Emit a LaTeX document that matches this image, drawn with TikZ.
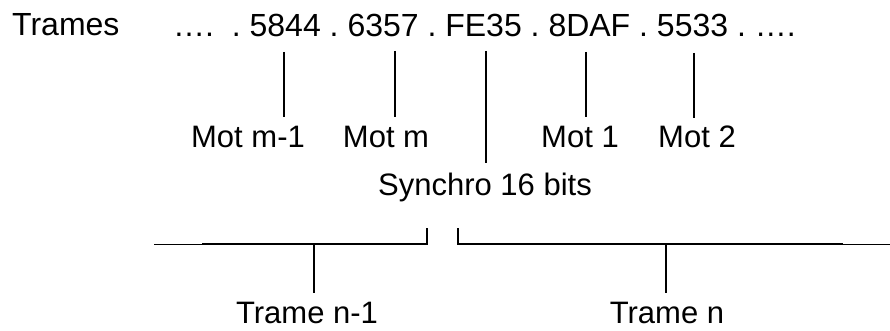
\documentclass[tikz,border=0pt]{standalone}
\usepackage{fontspec}
\setmainfont{Liberation Sans}
\begin{document}
\begin{tikzpicture}[x=1pt,y=-1pt,
  lbl/.style={inner sep=0pt, anchor=base, font=\fontsize{31}{36}\selectfont\frenchspacing},
  toplbl/.style={inner sep=0pt, anchor=base west, font=\fontsize{32}{38}\selectfont\frenchspacing},
  tick/.style={line width=1.6pt},
  thinline/.style={line width=1pt},
  thickline/.style={line width=2.3pt, line join=miter}]
\useasboundingbox (0,0) rectangle (890,331);

% texts
\node[toplbl] (trames) at (12,36) {Trames};
\node[toplbl] (seq) at (173,37) {….\ \ .\ 5844 .\ 6357 .\ FE35 .\ 8DAF .\ 5533 .\ ….};
\node[lbl] (motm1) at (248,147) {Mot m-1};
\node[lbl] (motm) at (386,147) {Mot m};
\node[lbl] (mot1) at (580,147) {Mot 1};
\node[lbl] (mot2) at (697,147) {Mot 2};
\node[lbl] (sync) at (485,195) {Synchro 16 bits};
\node[lbl] (tn1) at (307,323) {Trame n-1};
\node[lbl] (tn) at (667,323) {Trame n};

% top ticks
\coordinate (a1) at (284,52);  \coordinate (b1) at (284,117);
\coordinate (a2) at (395,51);  \coordinate (b2) at (395,117);
\coordinate (a3) at (486,51);  \coordinate (b3) at (486,163);
\coordinate (a4) at (586,52);  \coordinate (b4) at (586,117);
\coordinate (a5) at (694,53);  \coordinate (b5) at (694,118);
\draw[tick] (a1) -- (b1);
\draw[tick] (a2) -- (b2);
\draw[tick] (a3) -- (b3);
\draw[tick] (a4) -- (b4);
\draw[tick] (a5) -- (b5);

% bottom brackets
\coordinate (L0) at (154,244);
\coordinate (L1) at (202,244);
\coordinate (L2) at (427,244);
\coordinate (L3) at (427,228);
\coordinate (R3) at (458,228);
\coordinate (R2) at (458,244);
\coordinate (R1) at (843,244);
\coordinate (R0) at (890,244);
\coordinate (D1t) at (314,244); \coordinate (D1b) at (314,293);
\coordinate (D2t) at (666,244); \coordinate (D2b) at (666,293);
\draw[thinline] (L0) -- (L1);
\draw[thickline] (L1) -- (L2) -- (L3);
\draw[thickline] (R3) -- (R2) -- (R1);
\draw[thinline] (R1) -- (R0);
\draw[thickline] (D1t) -- (D1b);
\draw[thickline] (D2t) -- (D2b);
\end{tikzpicture}
\end{document}
